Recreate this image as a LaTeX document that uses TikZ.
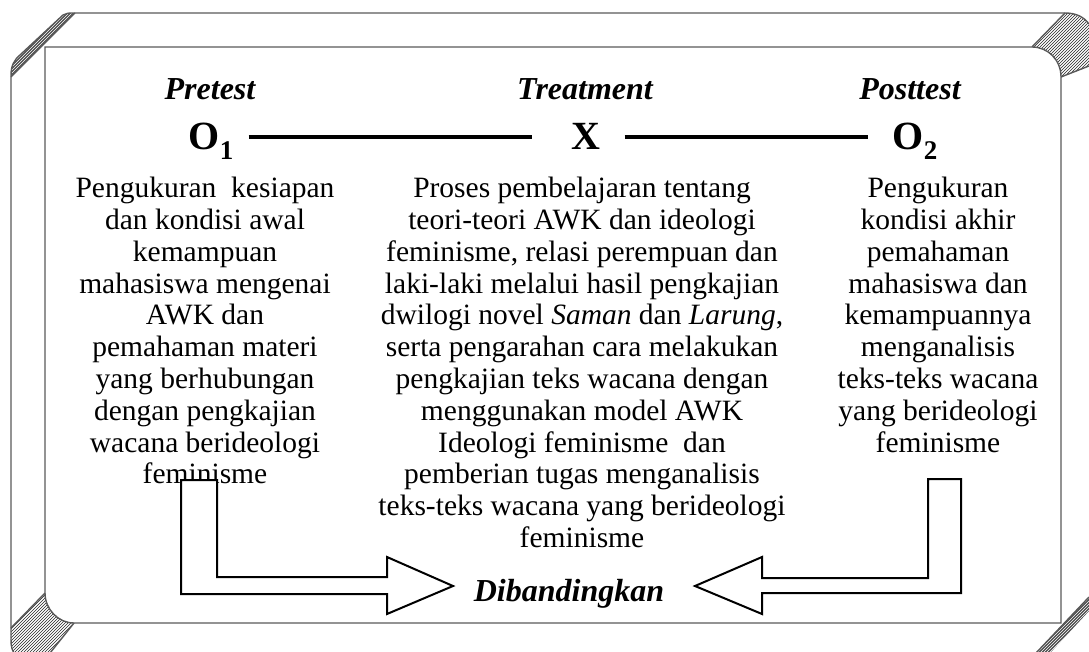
\documentclass[tikz,border=0pt]{standalone}
\usepackage{fontspec}
\setmainfont{Liberation Serif}
\usetikzlibrary{patterns}

\tikzset{
	rim/.style={draw=black!65, line width=1.4pt},
	hatch/.style={pattern=north east lines, pattern color=black!85},
	edgeband/.style={fill=black!70},
	blockarrow/.style={draw, line width=2pt, fill=white, line join=miter},
	body/.style={align=center, inner sep=0pt, anchor=north, font=\fontsize{29.5}{31.8}\selectfont},
	phase/.style={inner sep=0pt, anchor=base, font=\fontsize{32}{36}\selectfont\bfseries\itshape},
	obs/.style={inner sep=0pt, anchor=base, text height=28pt, text depth=2pt, font=\fontsize{40}{44}\selectfont\bfseries},
	tie/.style={line width=3.5pt}
}
\newcommand{\sub}[1]{\raisebox{-0.25em}{\fontsize{27}{27}\selectfont #1}}

\begin{document}
\begin{tikzpicture}[x=1pt, y=-1pt]
	\useasboundingbox (0,0) rectangle (1089,652);
	\clip (0,0) rectangle (1089,652);

	% frame
	\coordinate (TL) at (45,47);
	\coordinate (BR) at (1061,623);

	\path[edgeband] (11,77) -- (11,75) .. controls (11,66) and (14,60) .. (20,55) -- (63,15) .. controls (66,13) and (69,13) .. (75,13) -- cycle;
	\path[pattern=north east lines, pattern color=white] (11,77) -- (11,75) .. controls (11,66) and (14,60) .. (20,55) -- (63,15) .. controls (66,13) and (69,13) .. (75,13) -- cycle;
	\path[hatch] (1032,47) -- (1065,13) .. controls (1076,13) and (1084,17) .. (1089,24) -- (1089,66) -- (1061,77) .. controls (1061,60) and (1048,47) .. (1032,47) -- cycle;
	\path[hatch] (45,593) -- (11,628) -- (11,640) .. controls (11,646) and (12,650) .. (14,653) -- (50,653) -- (74,623) .. controls (58,623) and (45,609) .. (45,593) -- cycle;
	\path[edgeband] (1036,653) -- (1089,597) -- (1089,611) -- (1050,653) -- cycle;
	\path[pattern=north east lines, pattern color=white] (1036,653) -- (1089,597) -- (1089,611) -- (1050,653) -- cycle;

	\draw[rim] (11,628) -- (11,75) .. controls (11,66) and (14,60) .. (20,55) -- (63,15) .. controls (66,13) and (69,13) .. (75,13) -- (1065,13) .. controls (1076,13) and (1084,17) .. (1089,24);
	\draw[rim] (11,628) -- (11,640) .. controls (11,646) and (12,650) .. (14,653);
	\draw[rim] (11,77) -- (75,13);
	\draw[rim] (1032,47) -- (1065,13);
	\draw[rim] (1089,66) -- (1061,77);
	\draw[rim] (45,593) -- (11,628);
	\draw[rim] (74,623) -- (50,653);
	\draw[rim] (1036,653) -- (1089,597);
	\draw[rim] (TL) -- (1032,47) .. controls (1048,47) and (1061,60) .. (1061,77) -- (BR) -- (74,623) .. controls (58,623) and (45,609) .. (45,593) -- cycle;

	% design row
	\node[phase] (pre) at (210,100) {Pretest};
	\node[phase] (treat) at (585,100) {Treatment};
	\node[phase] (post) at (910,100) {Posttest};

	\node[obs] (o1) at (211,150) {O\sub{1}};
	\node[obs] (x) at (586,150) {X};
	\node[obs] (o2) at (915,150) {O\sub{2}};
	\draw[tie, shorten <=15pt, shorten >=39pt] (o1) -- (x);
	\draw[tie, shorten <=24pt, shorten >=25pt] (x) -- (o2);

	\node[body] (pretxt) at (205,177) {Pengukuran\ \ kesiapan\\ dan kondisi awal\\ kemampuan\\ mahasiswa mengenai\\ AWK dan\\ pemahaman materi\\ yang berhubungan\\ dengan pengkajian\\ wacana berideologi\\ feminisme};
	\node[body] (treattxt) at (582,177) {Proses pembelajaran tentang\\ teori-teori AWK dan ideologi\\ feminisme, relasi perempuan dan\\ laki-laki melalui hasil pengkajian\\ dwilogi novel \textit{Saman} dan \textit{Larung},\\ serta pengarahan cara melakukan\\ pengkajian teks wacana dengan\\ menggunakan model AWK\\ Ideologi feminisme\ \ dan\\ pemberian tugas menganalisis\\ teks-teks wacana yang berideologi\\ feminisme};
	\node[body] (posttxt) at (938,177) {Pengukuran\\ kondisi akhir\\ pemahaman\\ mahasiswa dan\\ kemampuannya\\ menganalisis\\ teks-teks wacana\\ yang berideologi\\ feminisme};

	% comparison
	\node[phase] (cmp) at (569,601) {Dibandingkan};
	\draw[blockarrow] (181,480) -- (217,480) -- (217,577) -- (387,577) -- (387,557) -- (453,586) -- (387,614) -- (387,594) -- (181,594) -- cycle;
	\draw[blockarrow] (961,479) -- (928,479) -- (928,578) -- (762,578) -- (762,557) -- (695,586) -- (762,614) -- (762,593) -- (961,593) -- cycle;

\end{tikzpicture}
\end{document}
